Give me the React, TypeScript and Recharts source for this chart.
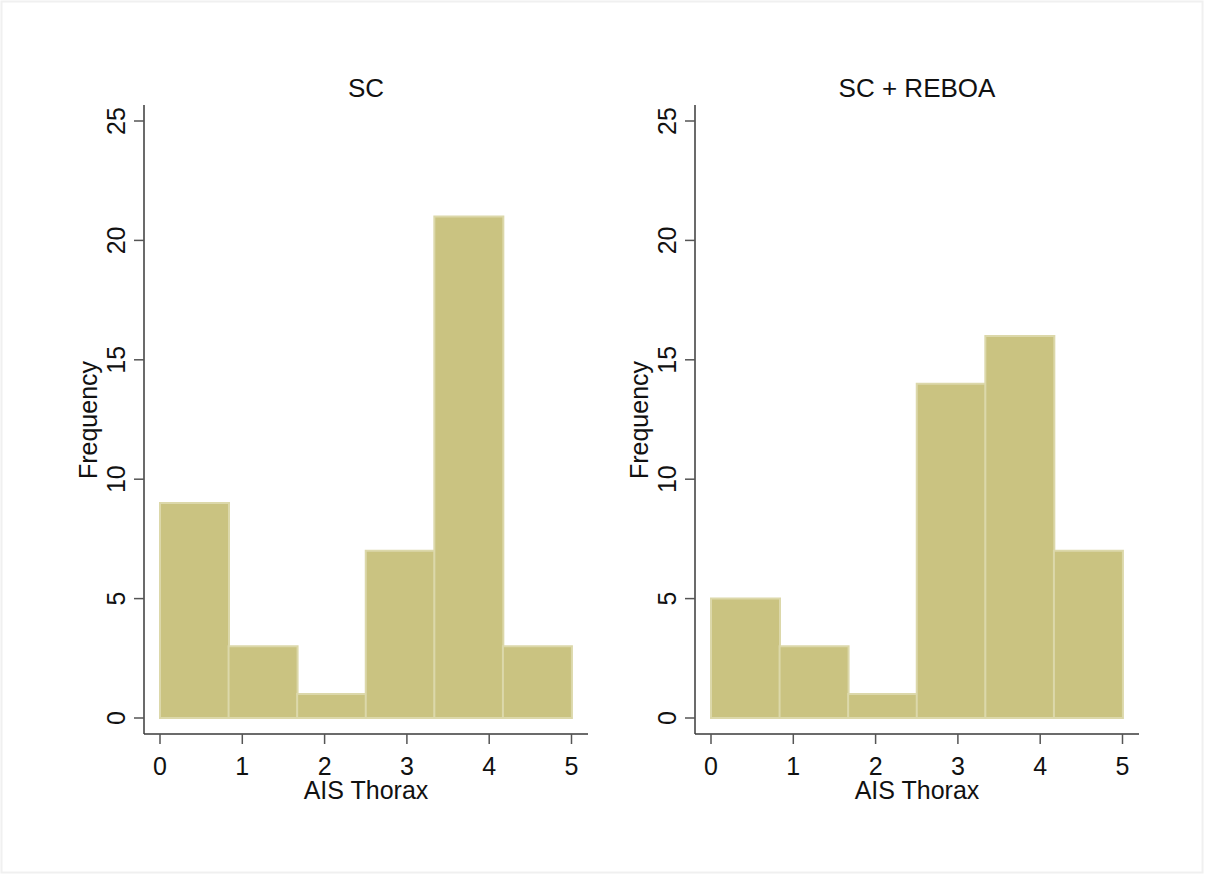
import { Bar, BarChart, XAxis, YAxis } from "recharts";

// histogram bins (AIS Thorax, 6 bins over 0–5)
const binStarts = [0, 0.833, 1.667, 2.5, 3.333, 4.167];
const scCounts = [9, 3, 1, 7, 21, 3];
const scRebaoCounts = [5, 3, 1, 14, 16, 7];

const xTicks = [0, 1, 2, 3, 4, 5];
const yTicks = [0, 5, 10, 15, 20, 25];

const panelTitles = ["SC", "SC + REBOA"];
const xLabel = "AIS Thorax";
const yLabel = "Frequency";

const FONT = "'Liberation Sans', Arial, Helvetica, sans-serif";
const BAR_FILL = "#cac381";
const BAR_EDGE = "#dcd8aa";
const AXIS = "#3a3a3a";

const YTick = (props: any) => {
  const { x, y, payload } = props;
  return (
    <text
      x={x}
      y={y}
      transform={`rotate(-90 ${x} ${y})`}
      textAnchor="middle"
      fontSize={25}
      fontFamily={FONT}
      fill="#111"
    >
      {payload.value}
    </text>
  );
};

const Panel = ({ counts, left }: { counts: number[]; left: number }) => {
  const data = binStarts.map((start, i) => ({ start, count: counts[i] }));
  return (
    <div style={{ position: "absolute", left, top: 0 }}>
      <BarChart
        width={590}
        height={875}
        data={data}
        barCategoryGap={0}
        barGap={0}
        margin={{ top: 105, right: 2, left: 64, bottom: 71 }}
      >
        <XAxis
          xAxisId="bins"
          dataKey="start"
          hide
          height={0}
          padding={{ left: 16, right: 16.5 }}
        />
        <XAxis
          xAxisId="num"
          type="number"
          dataKey="start"
          domain={[0, 5]}
          ticks={xTicks}
          allowDataOverflow
          padding={{ left: 16, right: 16.5 }}
          height={70}
          tickSize={10}
          tickMargin={13}
          axisLine={{ stroke: AXIS, strokeWidth: 1.5 }}
          tickLine={{ stroke: "#555", strokeWidth: 1.5 }}
          tick={{ fontSize: 25, fill: "#111", fontFamily: FONT }}
        />
        <YAxis
          domain={[0, 25]}
          ticks={yTicks}
          padding={{ top: 16, bottom: 16 }}
          width={80}
          tickSize={10}
          tickMargin={9}
          axisLine={{ stroke: AXIS, strokeWidth: 1.5 }}
          tickLine={{ stroke: "#555", strokeWidth: 1.5 }}
          tick={<YTick />}
        />
        <Bar
          xAxisId="bins"
          dataKey="count"
          fill={BAR_FILL}
          stroke={BAR_EDGE}
          strokeWidth={2}
          isAnimationActive={false}
        />
      </BarChart>
    </div>
  );
};

export default function App() {
  const centers = [366, 917];
  return (
    <div
      style={{
        position: "absolute",
        left: 0,
        top: 0,
        width: 1205,
        height: 875,
        background: "#fff",
        fontFamily: FONT,
      }}
    >
      <Panel counts={scCounts} left={0} />
      <Panel counts={scRebaoCounts} left={551} />
      <svg
        width={1205}
        height={875}
        style={{ position: "absolute", left: 0, top: 0, pointerEvents: "none" }}
      >
        <rect x={1.5} y={1.5} width={1201} height={871} fill="none" stroke="#f0f0f0" strokeWidth={2} />
        {centers.map((cx, i) => (
          <g key={i} fontFamily={FONT} fill="#111">
            <text x={cx} y={97} fontSize={26} textAnchor="middle">
              {panelTitles[i]}
            </text>
            <text x={cx} y={799} fontSize={25} textAnchor="middle">
              {xLabel}
            </text>
            <text
              x={97 + i * 551}
              y={420}
              fontSize={25}
              textAnchor="middle"
              transform={`rotate(-90 ${97 + i * 551} 420)`}
            >
              {yLabel}
            </text>
          </g>
        ))}
      </svg>
    </div>
  );
}
